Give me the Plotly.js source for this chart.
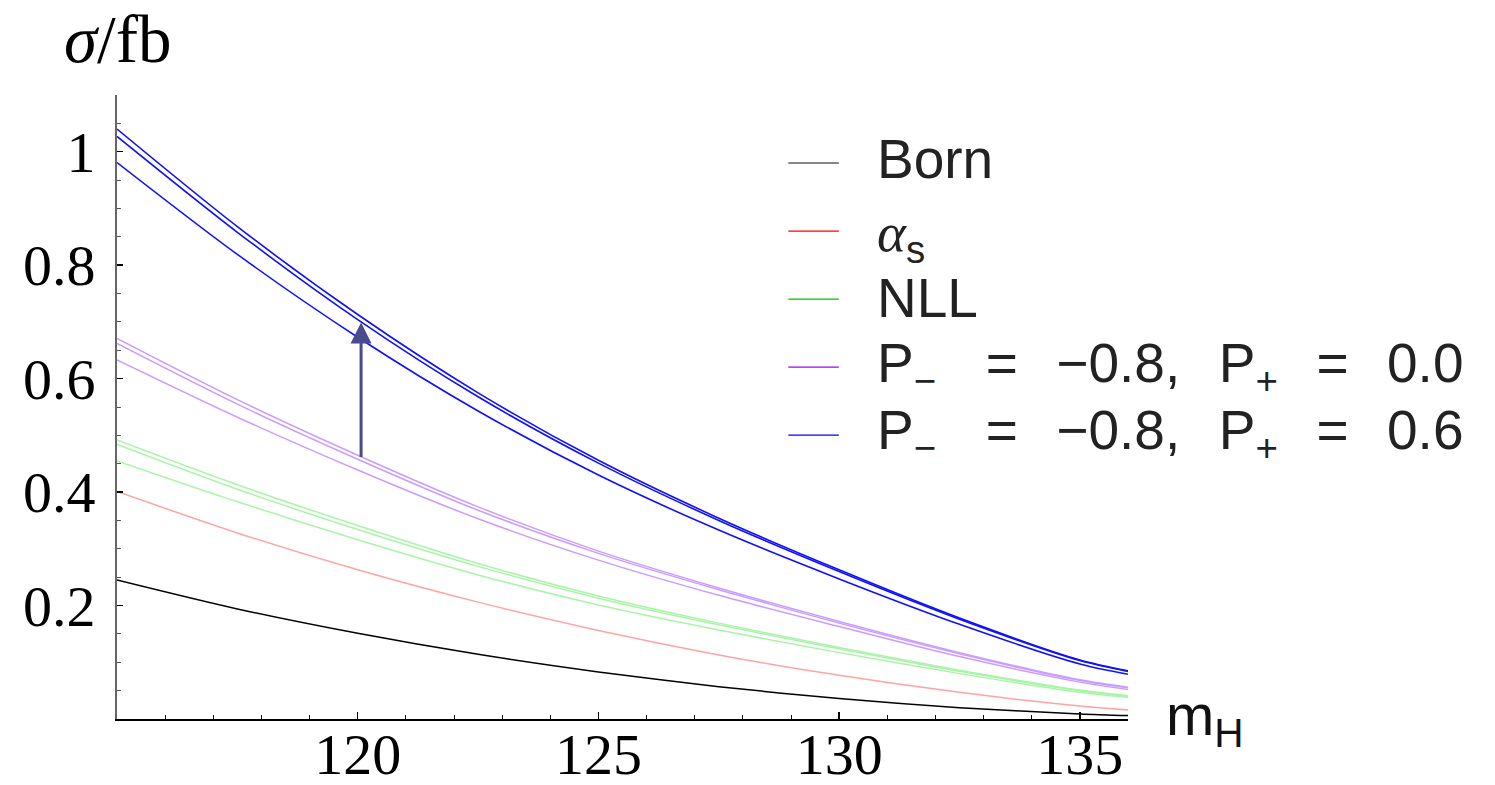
<!DOCTYPE html>
<html>
<head>
<meta charset="utf-8">
<script src="https://cdn.plot.ly/plotly-3.0.1.min.js"></script>
<style>html,body{margin:0;padding:0;background:#fff;}#chart{width:1495px;height:785px;}</style>
</head>
<body>
<div id="chart"></div>
<script>
// Higgs mass values (GeV)
const mH = [115, 117.5, 120, 122.5, 125, 127.5, 130, 132.5, 135, 136];

// Cross sections sigma / fb
const born   = [0.245, 0.194, 0.151, 0.114, 0.083, 0.057, 0.036, 0.020, 0.009, 0.006];
const alphaS = [0.401, 0.328, 0.263, 0.206, 0.156, 0.113, 0.077, 0.047, 0.023, 0.016];
const nll1 = [0.492, 0.413, 0.341, 0.274, 0.217, 0.169, 0.126, 0.086, 0.051, 0.041];
const nll2 = [0.484, 0.405, 0.334, 0.269, 0.213, 0.166, 0.124, 0.084, 0.050, 0.040];
const nll3 = [0.455, 0.383, 0.316, 0.254, 0.201, 0.157, 0.117, 0.080, 0.047, 0.038];
const pol00a = [0.671, 0.563, 0.465, 0.374, 0.296, 0.231, 0.172, 0.117, 0.069, 0.056];
const pol00b = [0.662, 0.555, 0.458, 0.368, 0.292, 0.228, 0.169, 0.115, 0.068, 0.055];
const pol00c = [0.633, 0.532, 0.439, 0.353, 0.280, 0.218, 0.163, 0.110, 0.065, 0.052];
const pol06a = [1.040, 0.868, 0.713, 0.575, 0.456, 0.354, 0.263, 0.178, 0.104, 0.085];
const pol06b = [1.027, 0.858, 0.704, 0.568, 0.451, 0.350, 0.260, 0.176, 0.103, 0.084];
const pol06c = [0.981, 0.819, 0.673, 0.543, 0.430, 0.333, 0.247, 0.167, 0.097, 0.079];

// Arrow (polarisation enhancement at mH = 120)
const arrowX = 120.07;
const arrowFrom = 0.459;
const arrowTo = 0.699;

// Legend labels and colours
const EN = '\u2002', TH = '\u2009';
const legendLabels = [
  'Born',
  "<span style=\"font-family:'Liberation Serif';font-style:italic\">\u03b1</span><sub>s</sub>",
  'NLL',
  'P<sub>\u2212</sub>' + EN + TH + TH + '=' + EN + TH + '\u22120.8,' + EN + TH + 'P<sub>+</sub>' + EN + TH + '=' + EN + TH + '0.0',
  'P<sub>\u2212</sub>' + EN + TH + TH + '=' + EN + TH + '\u22120.8,' + EN + TH + 'P<sub>+</sub>' + EN + TH + '=' + EN + TH + '0.6'
];
const legendColors = ['#111111', '#ff0000', '#00c000', '#a000ff', '#0000ff'];

// Tick labels
const xTickVals = [120, 125, 130, 135];
const xTickText = ['120', '125', '130', '135'];
const yTickVals = [0.2, 0.4, 0.6, 0.8, 1.0];
const yTickText = ['0.2', '0.4', '0.6', '0.8', '1'];

const curveStyle = {
  born: {color: '#000000', width: 1.5},
  alpha: {color: '#ffa3a3', width: 1.5},
  nll: {color: '#a8f5a8', width: 1.5},
  p00: {color: '#c99cff', width: 1.5},
  p06: {color: '#1010ff', width: 1.6}
};

function curve(y, st) {
  return {x: mH, y: y, type: 'scatter', mode: 'lines', showlegend: false,
          line: {color: st.color, width: st.width, shape: 'spline', smoothing: 0.8}, hoverinfo: 'skip'};
}

const data = [
  curve(born, curveStyle.born),
  curve(alphaS, curveStyle.alpha),
  curve(nll1, curveStyle.nll), curve(nll2, curveStyle.nll), curve(nll3, curveStyle.nll),
  curve(pol00a, curveStyle.p00), curve(pol00b, curveStyle.p00), curve(pol00c, curveStyle.p00),
  curve(pol06a, curveStyle.p06), curve(pol06b, curveStyle.p06), curve(pol06c, curveStyle.p06)
];

const serif = 'Liberation Serif, Times New Roman, serif';
const sans = 'Liberation Sans, Arial, sans-serif';

// Legend placement (paper coordinates)
const legX0 = 0.664, legX1 = 0.714, legTextX = 0.750;
const legLineY = [0.891, 0.782, 0.673, 0.564, 0.455];
const legTextDY = [0.006, -0.008, 0.002, 0.0, 0.002];

const shapes = [];
const annotations = [
  {x: arrowX, y: arrowTo, ax: arrowX, ay: arrowFrom, xref: 'x', yref: 'y', axref: 'x', ayref: 'y',
   text: '', showarrow: true, arrowhead: 2, arrowsize: 1.4, arrowwidth: 3, arrowcolor: '#4a4a8e'},
  {xref: 'paper', yref: 'paper', x: 0, y: 1.09, xanchor: 'center', yanchor: 'middle',
   text: '<i>\u03c3</i>/fb', showarrow: false, font: {family: serif, size: 67, color: '#000000'}},
  {xref: 'paper', yref: 'paper', x: 1.036, y: 0.0, xanchor: 'left', yanchor: 'middle',
   text: 'm<sub>H</sub>', showarrow: false, font: {family: sans, size: 58, color: '#111111'}}
];
legendLabels.forEach((lab, i) => {
  shapes.push({type: 'line', xref: 'paper', yref: 'paper', x0: legX0, x1: legX1,
               y0: legLineY[i], y1: legLineY[i], line: {color: legendColors[i], width: 1.2}});
  annotations.push({xref: 'paper', yref: 'paper', x: legTextX, y: legLineY[i] + legTextDY[i],
                    xanchor: 'left', yanchor: 'middle', showarrow: false, text: lab,
                    font: {family: sans, size: 55, color: '#222222'}});
});

const layout = {
  width: 1495, height: 785,
  margin: {l: 117, r: 367, t: 95, b: 66},
  paper_bgcolor: '#ffffff', plot_bgcolor: '#ffffff',
  showlegend: false,
  xaxis: {
    range: [115, 136], showgrid: false, zeroline: false,
    showline: true, linecolor: '#000000', linewidth: 2,
    ticks: 'inside', ticklen: 7, tickwidth: 1.5, tickcolor: '#000000',
    tickvals: xTickVals, ticktext: xTickText,
    tickfont: {family: serif, size: 58, color: '#000000'},
    ticklabelstandoff: -17,
    minor: {dtick: 1, tick0: 115, ticks: 'inside', ticklen: 4, tickwidth: 1, tickcolor: '#000000'}
  },
  yaxis: {
    range: [0, 1.1], showgrid: false, zeroline: false,
    showline: true, linecolor: '#666666', linewidth: 2,
    ticks: 'inside', ticklen: 6, tickwidth: 1.5, tickcolor: '#000000',
    tickvals: yTickVals, ticktext: yTickText,
    tickfont: {family: serif, size: 58, color: '#000000'},
    ticklabelstandoff: 8,
    minor: {dtick: 0.05, tick0: 0, ticks: 'inside', ticklen: 4, tickwidth: 1, tickcolor: '#555555'}
  },
  shapes: shapes,
  annotations: annotations
};

Plotly.newPlot('chart', data, layout, {displayModeBar: false, staticPlot: true});
</script>
</body>
</html>
